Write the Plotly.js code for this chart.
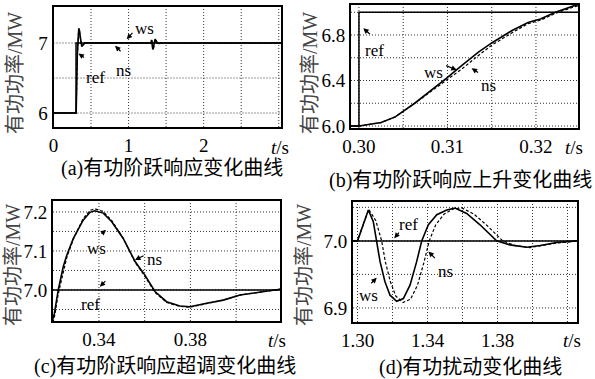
<!DOCTYPE html>
<html><head><meta charset="utf-8">
<script src="https://cdn.plot.ly/plotly-3.0.1.min.js"></script>
<style>html,body{margin:0;padding:0;background:#fff}#chart{width:595px;height:379px}</style>
</head><body><div id="chart"></div>
<script>
// ---- data ----
const initT   = [0, 0.3];
const initVal = [6.0, 6.0];
// step response (t in s, power in MW)
const stepT  = [0.3000,0.3025,0.3041,0.3063,0.3078,0.3099,0.3116,0.3135,0.3150,0.3173,0.3191,0.3205,0.3222,0.3244,0.3260,0.3288,0.3331,0.3361,0.3382,0.3419,0.3456,0.3506,0.3558,0.3601,0.3645,0.3696,0.3754,0.3798,0.3871,0.3944,0.4017,0.4090,0.4192];
const stepWs = [6.00,6.03,6.08,6.20,6.29,6.42,6.53,6.65,6.73,6.84,6.91,6.94,7.00,7.06,7.09,7.132,7.179,7.199,7.203,7.197,7.175,7.132,7.073,7.038,6.996,6.970,6.959,6.957,6.966,6.974,6.987,6.994,7.002];
const stepNs = [6.00,6.03,6.08,6.20,6.285,6.40,6.50,6.62,6.71,6.82,6.90,6.93,6.99,7.05,7.085,7.13,7.183,7.204,7.208,7.201,7.178,7.133,7.071,7.035,6.994,6.968,6.958,6.956,6.965,6.974,6.987,6.994,7.002];
// disturbance response
const distWsT = [1.3000,1.3033,1.3062,1.3090,1.3110,1.3129,1.3157,1.3186,1.3224,1.3262,1.3300,1.3338,1.3367,1.3405,1.3453,1.3510,1.3557,1.3624,1.3700,1.3795,1.3871,1.3967,1.4043,1.4138,1.4256];
const distWs  = [7.000,7.024,7.046,7.029,7.000,6.969,6.939,6.919,6.910,6.914,6.934,6.969,7.000,7.024,7.039,7.046,7.049,7.041,7.024,7.000,6.994,6.9905,6.993,6.9975,7.000];
const distNsT = [1.3000,1.3033,1.3064,1.3105,1.3138,1.3159,1.3188,1.3218,1.3260,1.3303,1.3343,1.3381,1.3410,1.3447,1.3495,1.3550,1.3597,1.3665,1.3740,1.3830,1.3900,1.3985,1.4055,1.4145,1.4256];
const distNs  = [7.000,7.024,7.047,7.030,7.000,6.969,6.939,6.918,6.908,6.913,6.934,6.969,7.000,7.024,7.040,7.048,7.049,7.040,7.023,7.000,6.993,6.990,6.993,6.997,7.000];
const endT = [3.03];
const endVal = [7.0];
// reference signal
const refT   = [0, 0.3, 0.3, 3.03];
const refVal = [6.0, 6.0, 7.0, 7.0];

// tick / grid positions and their labels ('' = grid line only)
const ticksA_x = [0,0.5,1,1.5,2,2.5,3];          const tickTextA_x = ['0','','1','','2','',''];
const ticksA_y = [6,6.5,7];                      const tickTextA_y = ['6','','7'];
const ticksB_x = [0.30,0.305,0.31,0.315,0.32];   const tickTextB_x = ['0.30','','0.31','','0.32'];
const ticksB_y = [6.0,6.2,6.4,6.6,6.8,7.0];      const tickTextB_y = ['6.0','','6.4','','6.8',''];
const ticksC_x = [0.34,0.36,0.38,0.40];          const tickTextC_x = ['0.34','','0.38',''];
const ticksC_y = [6.95,7.0,7.05,7.1,7.15,7.2];   const tickTextC_y = ['','7.0','','7.1','','7.2'];
const ticksD_x = [1.30,1.32,1.34,1.36,1.38,1.40,1.42]; const tickTextD_x = ['1.30','','1.34','','1.38','',''];
const ticksD_y = [6.9,6.95,7.0,7.05];            const tickTextD_y = ['6.9','','7.0',''];

const captions = ['(a)有功阶跃响应变化曲线','(b)有功阶跃响应上升变化曲线','(c)有功阶跃响应超调变化曲线','(d)有功扰动变化曲线'];
const yTitle = '有功功率/MW';

// ---- build full series ----
const wsT = initT.concat(stepT, distWsT, endT);
const wsV = initVal.concat(stepWs, distWs, endVal);
const nsT = initT.concat(stepT, distNsT, endT);
const nsV = initVal.concat(stepNs, distNs, endVal);

const W = 595, H = 379;
const FONT = 'Liberation Serif, Noto Sans CJK SC, serif';
const px = v => v / W, py = v => 1 - v / H;

const panels = [
  {id:'',  xd:[53.5,281], yd:[7,127],   xr:[0,3.03],           yr:[5.8,7.514],      xt:ticksA_x, xtt:tickTextA_x, yt:ticksA_y, ytt:tickTextA_y},
  {id:'2', xd:[351,578],  yd:[5,128],   xr:[0.2991,0.32475],   yr:[5.9824,7.0637],  xt:ticksB_x, xtt:tickTextB_x, yt:ticksB_y, ytt:tickTextB_y},
  {id:'3', xd:[53,280],   yd:[201,321], xr:[0.3199,0.4192],    yr:[6.9205,7.228],   xt:ticksC_x, xtt:tickTextC_x, yt:ticksC_y, ytt:tickTextC_y},
  {id:'4', xd:[353,577],  yd:[202,322], xr:[1.29743,1.42543],  yr:[6.879,7.058],    xt:ticksD_x, xtt:tickTextD_x, yt:ticksD_y, ytt:tickTextD_y}
];

const traces = [];
const layout = {
  width: W, height: H, margin:{l:0,r:0,t:0,b:0}, showlegend:false,
  annotations: []
};
const GRIDLINE = {color:'#333', width:1, dash:'1px,2px'};

panels.forEach(p => {
  const xa = 'x' + p.id, ya = 'y' + p.id;
  // dotted grid at the tick positions, drawn on the panel's own axes
  const gx = [], gy = [];
  p.xt.filter(v => v > p.xr[0] && v < p.xr[1]).forEach(v => { gx.push(v, v, null); gy.push(p.yr[0], p.yr[1], null); });
  p.yt.filter(v => v > p.yr[0] && v < p.yr[1]).forEach(v => { gx.push(p.xr[0], p.xr[1], null); gy.push(v, v, null); });
  traces.push({x:gx, y:gy, xaxis:xa, yaxis:ya, mode:'lines', line:GRIDLINE, connectgaps:false, hoverinfo:'skip'});
  traces.push({x:refT, y:refVal, xaxis:xa, yaxis:ya, mode:'lines', line:{color:'#000', width:1.5}});
  traces.push({x:nsT, y:nsV, xaxis:xa, yaxis:ya, mode:'lines', line:{color:'#000', width:1.2, dash:'3px,2px'}});
  traces.push({x:wsT, y:wsV, xaxis:xa, yaxis:ya, mode:'lines', line:{color:'#000', width:1.6}});
  const common = {showgrid:false, tickmode:'array',
    showline:true, mirror:true, linecolor:'#000', linewidth:2, zeroline:false, ticks:'',
    tickfont:{family:FONT, size:19, color:'#000'}};
  layout['xaxis' + p.id] = Object.assign({}, common, {
    domain:[px(p.xd[0]), px(p.xd[1])], range:p.xr, anchor:ya, tickvals:p.xt, ticktext:p.xtt});
  layout['yaxis' + p.id] = Object.assign({}, common, {
    domain:[py(p.yd[1]), py(p.yd[0])], range:p.yr, anchor:xa, tickvals:p.yt, ticktext:p.ytt});
});

// paper texts
function ptext(text, x, y, size, color, angle) {
  layout.annotations.push({xref:'paper', yref:'paper', x:px(x), y:py(y), text:text, showarrow:false,
    xanchor:'center', yanchor:'middle', textangle:angle||0, font:{family:FONT, size:size, color:color||'#000'}});
}
ptext(captions[0], 172, 168, 20);
ptext(captions[1], 460, 181, 20);
ptext(captions[2], 165, 366, 20);
ptext(captions[3], 470, 367, 20);
[[280,147],[574,147],[277,340],[572,340]].forEach(c => ptext('<i>t</i>/s', c[0], c[1], 19));
[[15,73],[310,73],[13,265],[304,265]].forEach(c => ptext(yTitle, c[0], c[1], 20, '#444', -90));

// curve labels + arrows (data coords)
function dtext(id, text, x, y) {
  layout.annotations.push({xref:'x'+id, yref:'y'+id, x:x, y:y, text:text, showarrow:false,
    xanchor:'center', yanchor:'middle', font:{family:FONT, size:17, color:'#000'}});
}
function darrow(id, x, y, ax, ay) {
  layout.annotations.push({xref:'x'+id, yref:'y'+id, x:x, y:y, text:'', showarrow:true,
    ax:ax, ay:ay, arrowhead:2, arrowsize:0.9, arrowwidth:1.2, arrowcolor:'#000'});
}
// (a)
dtext('', 'ws', 1.207, 7.214); darrow('', 0.976, 7.053, 7, -8);
dtext('', 'ns', 0.927, 6.614); darrow('', 0.820, 6.961, 7, 7);
dtext('', 'ref', 0.553, 6.514); darrow('', 0.333, 6.850, 7, 5);
// (b)
dtext('2', 'ref', 0.3018, 6.668); darrow('2', 0.30049, 6.859, 8, 7);
dtext('2', 'ws', 0.3084, 6.469); darrow('2', 0.31104, 6.492, -12, -5);
dtext('2', 'ns', 0.31461, 6.352); darrow('2', 0.31273, 6.507, 8, 5);
// (c)
dtext('3', 'ws', 0.339, 7.107); darrow('3', 0.3431, 7.154, -6, 5);
dtext('3', 'ns', 0.3645, 7.077); darrow('3', 0.3558, 7.077, 10, -5);
dtext('3', 'ref', 0.3361, 6.963); darrow('3', 0.3404, 7.0085, 7, -7);
// (d)
dtext('4', 'ref', 1.3290, 7.025); darrow('4', 1.3210, 7.004, 6, -7);
dtext('4', 'ns', 1.3500, 6.955); darrow('4', 1.3405, 6.984, 8, 8);
dtext('4', 'ws', 1.3062, 6.918); darrow('4', 1.3110, 6.945, -7, 7);

Plotly.newPlot('chart', traces, layout, {staticPlot:true, displayModeBar:false});
</script>
</body></html>
